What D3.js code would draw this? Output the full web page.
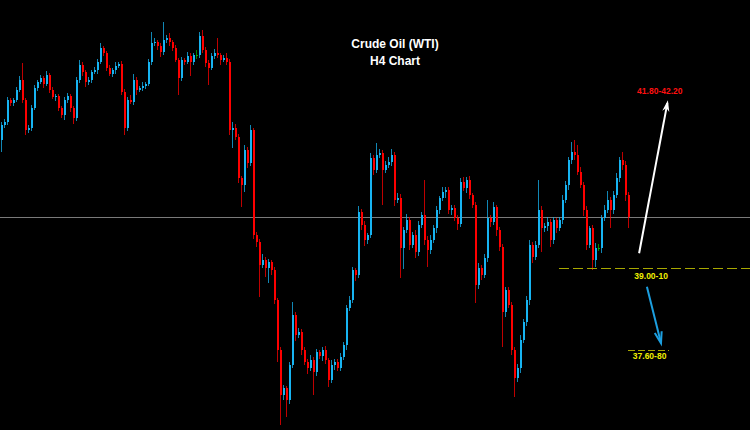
<!DOCTYPE html>
<html>
<head>
<meta charset="utf-8">
<script src="https://cdnjs.cloudflare.com/ajax/libs/d3/7.8.5/d3.min.js"></script>
<style>
  html, body { margin: 0; padding: 0; background: #000; }
  svg { display: block; }
</style>
</head>
<body>
<svg id="chart"></svg>
<script>
// H4 candles, price (open = previous close)
var firstOpen = 41.17;
var closes = [
  41.42,41.47,41.83,41.78,41.83,42.00,42.17,41.83,41.33,41.37,
  41.70,42.03,42.13,42.20,42.10,42.25,42.00,41.88,41.90,41.70,
  41.58,41.83,41.90,41.70,41.53,42.17,42.42,42.30,42.13,42.17,
  42.30,42.33,42.47,42.70,42.62,42.37,42.27,42.33,42.40,42.43,
  41.97,41.37,41.83,41.80,42.17,42.00,42.03,42.07,42.10,42.47,
  42.78,42.80,42.73,42.63,42.83,42.87,42.80,42.70,42.50,42.20,
  42.50,42.47,42.57,42.47,42.58,42.58,42.90,42.67,42.45,42.37,
  42.57,42.62,42.58,42.50,42.53,42.47,41.33,41.37,41.22,40.53,
  40.42,41.00,40.78,41.33,39.58,39.47,39.08,39.17,39.03,39.13,
  39.00,38.50,37.67,36.92,37.03,36.83,37.42,38.25,37.92,37.97,
  37.67,37.47,37.37,37.50,37.30,37.63,37.57,37.67,37.50,37.17,
  37.42,37.47,37.37,37.55,37.75,38.37,38.50,39.00,38.92,39.97,
  39.75,39.50,39.58,40.87,40.67,40.92,40.95,40.67,40.75,40.80,
  40.92,40.17,40.20,39.37,39.67,39.83,39.42,39.58,39.30,39.75,
  39.92,39.50,39.33,39.50,39.70,40.00,40.20,40.30,40.33,40.00,
  40.03,39.87,39.77,40.47,40.37,40.50,40.25,40.08,38.75,39.03,
  38.92,39.20,39.87,39.80,40.05,39.67,39.38,38.30,38.67,38.42,
  37.67,37.20,37.37,37.83,38.13,38.50,39.42,39.22,39.42,40.00,
  39.70,39.73,39.80,39.50,39.83,39.70,39.83,40.17,40.42,40.83,
  40.97,40.92,40.63,40.42,40.00,39.42,39.70,39.17,39.37,39.37,
  39.87,40.00,40.17,40.00,40.25,40.53,40.83,40.75,40.25,39.88
];
// wick lengths above / below the body, in cents
var wickUp = [
  5,4,6,3,4,5,6,28,3,4, 5,6,4,5,4,6,3,5,4,3, 4,6,5,3,4,5,8,4,3,5,
  4,6,5,8,4,3,5,4,6,4, 5,4,6,8,10,5,4,6,4,5, 18,6,4,5,30,5,8,4,5,4,
  5,4,6,5,4,8,6,10,4,5, 5,6,25,4,5,8,5,10,6,4, 4,8,5,8,4,5,4,10,5,6,
  4,5,4,5,6,4,5,22,5,6, 4,5,4,8,5,6,4,5,6,4, 8,5,4,6,5,4,6,5,4,10,
  5,6,4,8,5,20,6,5,6,8, 10,5,8,6,5,10,6,5,8,6, 5,58,6,8,5,6,4,8,6,5,
  6,5,4,6,8,5,6,4,5,8, 5,6,30,5,8,4,5,6,5,4, 5,4,6,8,5,6,8,5,6,50,
  6,5,8,5,6,4,5,8,6,5, 17,20,17,8,5,6,4,5,8,6, 5,8,15,5,6,8,5,13,6,5
];
var wickDown = [
  20,5,6,4,5,3,4,5,8,4, 6,4,5,3,6,4,5,3,6,5, 4,8,5,6,10,4,5,6,8,4,
  5,4,6,3,5,6,4,5,6,4, 5,12,6,4,5,8,4,5,6,4, 5,4,6,8,5,4,6,5,4,28,
  5,6,4,23,5,6,4,5,6,28, 4,6,5,8,4,5,8,30,6,8, 37,12,8,5,6,8,53,5,15,25,
  8,6,20,50,8,28,6,5,10,6, 8,6,10,5,38,6,5,8,6,12, 6,8,5,6,5,8,6,5,10,6,
  8,10,6,5,8,6,5,58,6,5, 6,10,5,50,35,6,8,5,10,6, 5,8,28,6,5,8,6,5,10,6,
  8,5,10,6,5,8,6,5,30,6, 8,5,6,8,5,10,6,58,8,6, 8,32,6,8,5,6,8,10,6,5,
  40,6,8,12,6,8,5,6,5,8, 6,8,5,6,10,8,6,17,12,6, 8,6,5,30,6,5,6,8,10,18
];

var titleLines = ["Crude Oil (WTI)", "H4 Chart"];
var lastPrice = 39.88;
var supportLevel = 39.03, supportLabel = "39.00-10";
var lowTarget = 37.67, lowLabel = "37.60-80";
var highTarget = 41.83, highLabel = "41.80-42.20";
var upArrow = { from: [212.7, 39.28], to: [222.3, 41.83] };   // [bar index, price]
var downArrow = { from: [215.3, 38.72], to: [220.0, 37.78] };

var width = 750, height = 430;
var svg = d3.select("#chart").attr("width", width).attr("height", height);
svg.append("rect").attr("width", width).attr("height", height).attr("fill", "#000");

var candles = closes.map(function(c, i) {
    var o = i === 0 ? firstOpen : closes[i - 1];
    return {
        i: i, o: o, c: c,
        h: Math.max(o, c) + wickUp[i] / 100,
        l: Math.min(o, c) - wickDown[i] / 100
    };
});

var x = d3.scaleLinear().domain([0, closes.length - 1]).range([1, 628]);
var y = d3.scaleLinear().domain([36.35, 43.50]).range([429, 0]);

function colour(d) {
    if (d.c > d.o) return "#17b4f2";
    if (d.c < d.o) return "#ff0000";
    return "#00b300";
}

var g = svg.append("g").attr("shape-rendering", "crispEdges");

// current price line
g.append("line")
    .attr("x1", 0).attr("x2", width)
    .attr("y1", Math.round(y(lastPrice)) + 0.5).attr("y2", Math.round(y(lastPrice)) + 0.5)
    .attr("stroke", "#7a7a7a").attr("stroke-width", 1);

var c = g.selectAll("g.candle").data(candles).enter().append("g").attr("class", "candle");

c.append("line")
    .attr("x1", d => Math.round(x(d.i)) + 0.5)
    .attr("x2", d => Math.round(x(d.i)) + 0.5)
    .attr("y1", d => y(d.h))
    .attr("y2", d => y(d.l))
    .attr("stroke", colour)
    .attr("stroke-opacity", 0.75);

c.append("rect")
    .attr("x", d => Math.round(x(d.i)) - 0.5)
    .attr("width", 2)
    .attr("y", d => y(Math.max(d.o, d.c)))
    .attr("height", d => Math.max(1, y(Math.min(d.o, d.c)) - y(Math.max(d.o, d.c))))
    .attr("fill", colour);

// support / target levels
g.append("line")
    .attr("x1", x(186)).attr("x2", width)
    .attr("y1", Math.round(y(supportLevel)) + 0.5).attr("y2", Math.round(y(supportLevel)) + 0.5)
    .attr("stroke", "#a8a800").attr("stroke-dasharray", "10,4");

g.append("line")
    .attr("x1", x(209)).attr("x2", x(222.7))
    .attr("y1", Math.round(y(lowTarget)) + 0.5).attr("y2", Math.round(y(lowTarget)) + 0.5)
    .attr("stroke", "#a8a800").attr("stroke-dasharray", "7,3");

var labelFont = "'Liberation Sans', Arial, sans-serif";

svg.append("text")
    .attr("x", x(216.7)).attr("y", y(supportLevel) + 11)
    .attr("text-anchor", "middle").attr("fill", "#f0f000")
    .attr("font-family", labelFont).attr("font-weight", "bold").attr("font-size", 8.5)
    .text(supportLabel);

svg.append("text")
    .attr("x", x(216.2)).attr("y", y(lowTarget) + 9)
    .attr("text-anchor", "middle").attr("fill", "#f0f000")
    .attr("font-family", labelFont).attr("font-weight", "bold").attr("font-size", 8.5)
    .text(lowLabel);

svg.append("text")
    .attr("x", x(219.6)).attr("y", y(highTarget) - 6)
    .attr("text-anchor", "middle").attr("fill", "#ff1010")
    .attr("font-family", labelFont).attr("font-weight", "bold").attr("font-size", 8.5)
    .text(highLabel);

// arrows
function arrow(a, col, filled) {
    var x1 = x(a.from[0]), y1 = y(a.from[1]), x2 = x(a.to[0]), y2 = y(a.to[1]);
    var ang = Math.atan2(y2 - y1, x2 - x1);
    var len = 12, spread = 0.3;
    var p1 = [x2 - len * Math.cos(ang - spread), y2 - len * Math.sin(ang - spread)];
    var p2 = [x2 - len * Math.cos(ang + spread), y2 - len * Math.sin(ang + spread)];
    svg.append("line")
        .attr("x1", x1).attr("y1", y1).attr("x2", x2 - 3 * Math.cos(ang)).attr("y2", y2 - 3 * Math.sin(ang))
        .attr("stroke", col).attr("stroke-width", 2);
    if (filled) {
        svg.append("path")
            .attr("d", "M" + x2 + "," + y2 + "L" + p1 + "L" + (x2 - 8 * Math.cos(ang)) + "," + (y2 - 8 * Math.sin(ang)) + "L" + p2 + "Z")
            .attr("fill", col);
    } else {
        svg.append("path")
            .attr("d", "M" + p1 + "L" + x2 + "," + y2 + "L" + p2)
            .attr("fill", "none").attr("stroke", col).attr("stroke-width", 2);
    }
}
arrow(upArrow, "#ffffff", true);
arrow(downArrow, "#1c9fe0", false);

// title
svg.selectAll("text.title").data(titleLines).enter().append("text")
    .attr("class", "title")
    .attr("x", 395).attr("y", (d, i) => 48 + i * 17)
    .attr("text-anchor", "middle").attr("fill", "#fff")
    .attr("font-family", labelFont).attr("font-weight", "bold").attr("font-size", 12)
    .text(d => d);
</script>
</body>
</html>
